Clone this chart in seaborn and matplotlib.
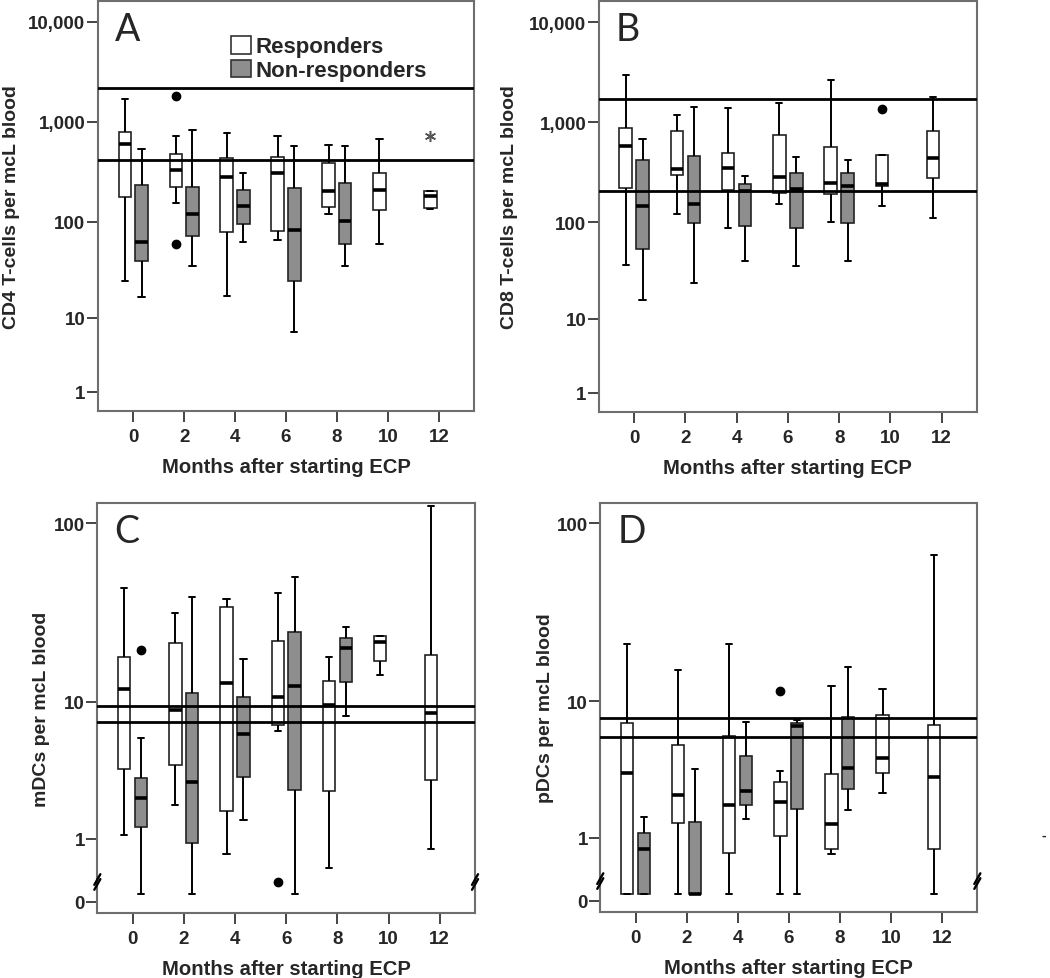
import numpy as np
import pandas as pd
import seaborn as sns
import matplotlib.pyplot as plt
from matplotlib.patches import Patch

months = [0, 2, 4, 6, 8, 10, 12]
groups = ['Responders', 'Non-responders']

# five-number summaries: whisker low, Q1, median, Q3, whisker high
cd4_resp = [[24.6, 176, 596, 788, 1700], [152, 224, 332, 481, 729], [17, 79, 280, 435, 775],
            [64.6, 81, 310, 449, 723], [120, 139, 204, 390, 583], [59, 130, 209, 310, 680],
            [133, 137, 182, 202, 202]]
cd4_nonresp = [[16.9, 40, 61.7, 231, 536], [35.3, 72, 120, 225, 838], [62.7, 94.7, 144, 209, 310],
               [6.9, 24.6, 82.4, 217, 578], [35.3, 59.8, 102, 242, 574], None, None]
cd8_resp = [[37, 218, 581, 879, 2958], [121, 297, 338, 820, 1193], [88, 209, 346, 488, 1399],
            [151, 195, 283, 742, 1556], [100, 192, 247, 568, 2617], [145, 232, 243, 466, 466],
            [109, 277, 435, 826, 1774]]
cd8_nonresp = [[16, 54, 147, 416, 683], [24, 99, 154, 463, 1421], [40, 91, 205, 243, 290],
               [36, 87, 213, 311, 455], [40, 97, 232, 311, 416], None, None]
mdc_resp = [[1.09, 3.77, 11.9, 18.1, 44.2], [2.05, 3.99, 8.88, 21.8, 32.1], [0.655, 1.84, 12.8, 34.6, 38.6],
            [6.6, 7.2, 10.6, 22.4, 41.3], [0.39, 2.6, 9.5, 13.3, 18.2], [14.3, 17.2, 22.0, 23.8, 23.8],
            [0.75, 3.17, 8.5, 18.6, 125]]
mdc_nonresp = [[0, 1.32, 2.32, 3.27, 6.0], [0, 0.90, 3.07, 11.2, 39.5], [1.52, 3.3, 6.4, 10.7, 17.6],
               [0, 2.68, 12.3, 25.2, 50.8], [8.2, 13.1, 20.4, 23.4, 26.7], None, None]
pdc_resp = [[0, 0, 3.49, 7.36, 21.5], [0, 1.40, 2.40, 5.35, 15.3], [0, 0.65, 2.01, 6.09, 21.5],
            [0, 1.06, 2.14, 3.01, 3.58], [0.64, 0.75, 1.38, 3.43, 12.3], [2.50, 3.49, 4.41, 8.3, 11.8],
            [0, 0.74, 3.25, 7.13, 66.8]]
pdc_nonresp = [[0, 0, 0.75, 1.13, 1.61], [0, 0, 0, 1.43, 3.71], [1.52, 2.0, 2.57, 4.52, 7.44],
               [0, 1.86, 7.12, 7.36, 7.69], [1.82, 2.67, 3.77, 7.98, 15.9], None, None]

# outliers: (month, group, value, marker)
cd4_out = [(2, 'Responders', 1820, 'o'), (2, 'Responders', 59, 'o'), (12, 'Responders', 728, '*')]
cd8_out = [(10, 'Responders', 1350, 'o')]
mdc_out = [(0, 'Non-responders', 20, 'o'), (6, 'Responders', 0.17, 'o')]
pdc_out = [(6, 'Responders', 11.5, 'o')]

# normal range lines
cd4_ref = [2160, 416]
cd8_ref = [1700, 207]
mdc_ref = [9.43, 7.51]
pdc_ref = [7.96, 6.08]

BOX_WIDTH = 0.66
DODGE = BOX_WIDTH / 4
fill = {'Responders': 'white', 'Non-responders': '#8e8e8e'}


def fwd(y):
    return np.log10(np.clip(np.asarray(y, dtype=float) + 1, 1e-6, None))


def inv(u):
    return 10 ** np.asarray(u, dtype=float) - 1


def to_long(resp, nonresp):
    rows = []
    for g, boxes in zip(groups, [resp, nonresp]):
        for m, stats in zip(months, boxes):
            if stats is None:
                continue
            for v in stats:
                rows.append({'month': m, 'group': g, 'value': v})
    return pd.DataFrame(rows)


sns.set_theme(style='white')
plt.rcParams['font.family'] = ['Liberation Sans', 'DejaVu Sans']
plt.rcParams['font.weight'] = 'bold'

fig = plt.figure(figsize=(10.5, 9.79), dpi=100)
axes = {
    'A': fig.add_axes([0.0933, 0.5792, 0.3581, 0.4188]),
    'B': fig.add_axes([0.5702, 0.5781, 0.3603, 0.4198]),
    'C': fig.add_axes([0.0927, 0.0664, 0.3597, 0.4188]),
    'D': fig.add_axes([0.5717, 0.0674, 0.3591, 0.4178]),
}

panels = [
    ('A', cd4_resp, cd4_nonresp, cd4_out, cd4_ref, 'CD4 T-cells per mcL blood', -0.207),
    ('B', cd8_resp, cd8_nonresp, cd8_out, cd8_ref, 'CD8 T-cells per mcL blood', -0.213),
    ('C', mdc_resp, mdc_nonresp, mdc_out, mdc_ref, 'mDCs per mcL blood', -0.125),
    ('D', pdc_resp, pdc_nonresp, pdc_out, pdc_ref, 'pDCs per mcL blood', -0.123),
]

for name, resp, nonresp, outl, ref, ylabel, ylab_x in panels:
    ax = axes[name]
    ax.set_yscale('function', functions=(fwd, inv))
    df = to_long(resp, nonresp)
    sns.boxplot(data=df, x='month', y='value', hue='group', order=months, hue_order=groups,
                palette=fill, width=BOX_WIDTH, gap=0.27, whis=(0, 100), showfliers=False,
                linecolor='#222222', linewidth=1.2,
                medianprops=dict(color='black', linewidth=2.6),
                whiskerprops=dict(color='black', linewidth=1.4),
                capprops=dict(color='black', linewidth=1.4),
                legend=False, ax=ax)

    for m, g, v, mk in outl:
        x = months.index(m) + (-DODGE if g == 'Responders' else DODGE)
        if mk == '*':
            ax.plot(x, v, marker=(6, 2, 0), color='#555555', markersize=8,
                    markeredgewidth=1.1, zorder=5)
        else:
            ax.plot(x, v, marker='o', color='black', markersize=6, zorder=5)

    for r in ref:
        ax.axhline(r, color='black', linewidth=2.0, zorder=4)

    ax.set_xlim(-0.69, len(months) - 1 + 0.69)
    if name in ('A', 'B'):
        ax.set_ylim(inv(0.11), inv(4.21))
        ticks = [1, 10, 100, 1000, 10000]
        ax.set_yticks(ticks)
        ax.set_yticklabels([f'{t:,}' for t in ticks])
    else:
        ax.set_ylim(inv(-0.100), inv(2.114))
        ax.set_yticks([-0.085, 1, 10, 100])
        ax.set_yticklabels(['0', '1', '10', '100'])
        # axis break marks
        yb = 0.0756
        for xs in (0, 1):
            for dy in (-0.006, 0.006):
                ax.plot([xs - 0.008, xs + 0.008], [yb + dy - 0.013, yb + dy + 0.013],
                        transform=ax.transAxes, color='black', linewidth=1.7,
                        clip_on=False, zorder=6)
    ax.minorticks_off()
    ax.set_xticks(range(len(months)))
    ax.set_xticklabels([str(m) for m in months])

    ax.tick_params(axis='y', which='major', direction='out', length=8, width=1.4,
                   color='#444444', labelsize=13.5, left=True, pad=1)
    ax.tick_params(axis='x', which='major', direction='out', length=8, width=1.4,
                   color='#444444', labelsize=13.5, bottom=True, pad=4)
    for lab in ax.get_xticklabels() + ax.get_yticklabels():
        lab.set_fontweight('bold')
    for sp in ax.spines.values():
        sp.set_visible(True)
        sp.set_color('#6e6e6e')
        sp.set_linewidth(1.5)

    ax.set_xlabel('Months after starting ECP', fontsize=14.6, fontweight='bold')
    ax.xaxis.set_label_coords(0.5, -0.112)
    ax.set_ylabel(ylabel, fontsize=14, fontweight='bold')
    ax.yaxis.set_label_coords(ylab_x, 0.5)

    ax.text(0.045, 0.975, name, transform=ax.transAxes, fontsize=27, va='top',
            ha='left', family='Lato', fontweight='normal')

handles = [Patch(facecolor=fill[g], edgecolor='#333333', linewidth=1.2) for g in groups]
axes['A'].legend(handles, groups, loc='upper left', bbox_to_anchor=(0.355, 0.915),
                 frameon=False, handlelength=0.9, handleheight=0.85, handletextpad=0.18,
                 borderpad=0, labelspacing=0.1, borderaxespad=0,
                 prop=dict(weight='bold', size=16))

fig.text(0.994, 1 - 836 / 979, '-', fontsize=10, ha='center', va='center')

fig.savefig('out.png', dpi=100)
